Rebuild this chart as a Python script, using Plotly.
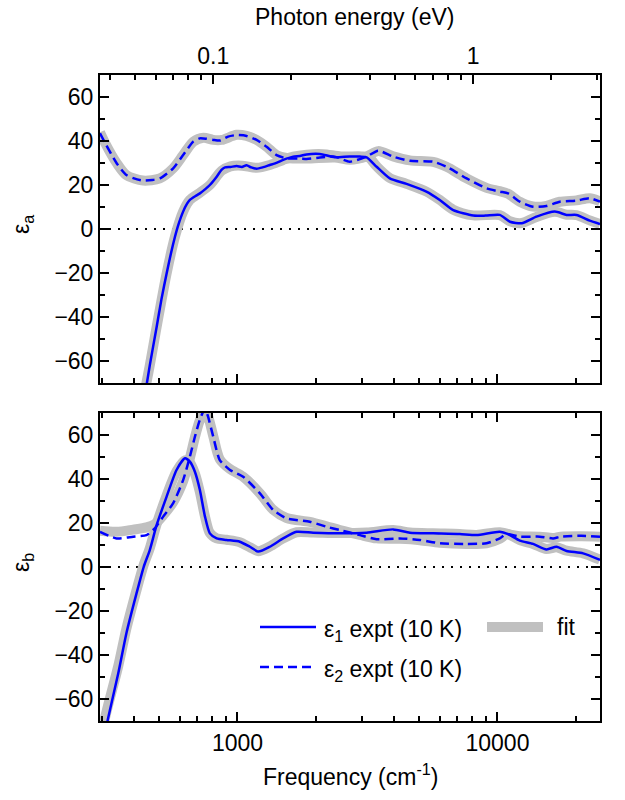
import math
import plotly.graph_objects as go

# ---------------- data ----------------
EV_TO_CM = 8065.54

# top panel (eps_a) experiment
freq_a_e1 = [440, 460, 489, 510, 534, 555, 575, 592, 618, 640, 656, 690, 717, 750, 783, 832, 870, 896, 940, 992,
             1040, 1084, 1130, 1184, 1250, 1332, 1420, 1499, 1638, 1738, 1845, 2075, 2367, 2700, 2960, 3140, 3430,
             3855, 4470, 5330, 6000, 6760, 8070, 9000, 10210, 11170, 12390, 14130, 16630, 18450, 20140, 22650, 24800]
eps_a_e1 = [-76, -62, -44.4, -32, -20.2, -11, -3.5, 1.8, 7.9, 11.5, 13.2, 15, 16.2, 18, 20, 23.8, 27, 28, 28.2, 28.6,
            28.2, 29, 28, 27.4, 28, 29.1, 30.2, 31.4, 32.9, 33.2, 33.9, 34.1, 32.6, 33, 32.9, 32.6, 28.3,
            23, 20.5, 17, 13.2, 8.6, 6.1, 6.1, 6.4, 3.3, 2.6, 5.6, 7.9, 6.4, 6.4, 3.8, 2.3]

freq_a_e2 = [296, 310, 343, 374, 400, 433, 470, 503, 566, 618, 676, 716, 760, 807, 855, 920, 992, 1084, 1184, 1294,
             1414, 1545, 1738, 1845, 2075, 2367, 2705, 3140, 3475, 3970, 4605, 5660, 6370, 7610, 9080, 10210,
             10990, 12190, 13710, 15440, 17380, 20140, 22650, 24800]
eps_a_e2 = [43.5, 39, 29.9, 24.5, 23, 22, 22.3, 23, 27.6, 33.6, 39.7, 41.2, 41, 40.5, 40.2, 42, 42.7, 42.3, 40.5, 37.4,
            33.6, 32.1, 32.1, 31.8, 32.5, 32.9, 30.6, 32.9, 35.6, 32.9, 31, 30.6, 28.3, 23, 18.5, 17,
            16.2, 12.4, 10.1, 10.5, 12.4, 12.9, 14, 12.4]

# top panel fit
freq_a_f1 = [430, 460, 489, 534, 575, 618, 656, 717, 783, 870, 940, 1040, 1184, 1332, 1499, 1638, 1845, 2138, 2500,
             3000, 3200, 3430, 3855, 4470, 5330, 6000, 6760, 8070, 10210, 11170, 12390, 14130, 16630, 18450, 20140,
             22650, 24800]
fit_a_e1 = [-80, -62, -44.4, -20.2, -3.5, 7.9, 13.2, 16.5, 20, 26.5, 28.5, 28.8, 27.8, 29.1, 31.4, 32.9, 33.8, 34, 33,
            33, 32.5, 28.5, 23.2, 20.5, 17, 13.2, 8.8, 6.2, 6.3, 3.5, 2.7, 5.5, 7.8, 6.5, 6.3,
            3.9, 2.3]
freq_a_f2 = [296, 310, 343, 374, 433, 503, 566, 618, 676, 740, 807, 870, 992, 1084, 1184, 1294, 1414, 1545, 1845, 2367,
             2705, 3140, 3475, 3970, 4605, 5660, 6370, 7610, 9080, 10210, 10990, 12190, 13710, 15440, 17380, 20140,
             22650, 24800]
fit_a_e2 = [44, 39, 30, 24.5, 22, 23, 27.6, 33.6, 39.7, 41.5, 40.5, 40.5, 42.8, 42.3, 40.5, 37.4, 33.6, 32.3, 32, 32.5,
            31.5, 33, 35.4, 33, 31.2, 30.5, 28.3, 23, 18.7, 17.2, 16, 12.4, 10.2, 10.5, 12.4, 13,
            14, 12.6]

# bottom panel (eps_b) experiment
freq_b_e1 = [305, 318, 348, 374, 409, 436, 460, 489, 534, 583, 628, 656, 686, 717, 750, 783, 832, 908, 1021, 1116,
             1202, 1332, 1499, 1688, 1955, 2477, 3140, 3970, 4605, 5660, 7160, 8310, 10210, 10990, 12190, 13710,
             15440, 16880, 18450, 21360, 24800]
eps_b_e1 = [-80, -68.8, -48.3, -30.1, -12, 0.1, 7.7, 19.1, 32, 44.1, 49.4, 47.9, 43.3, 35, 22.9, 15.3, 13, 12.3, 11.5, 9.2,
            7, 9.2, 13, 16, 15.6, 15.3, 15.6, 17.1, 15.6, 15.3, 15, 14.5, 16, 14.9, 12, 10.5,
            8, 9.2, 7.3, 6.2, 3.2]
freq_b_e2 = [296, 343, 397, 447, 481, 518, 566, 618, 656, 686, 716, 750, 771, 807, 855, 936, 1052, 1220, 1372, 1545,
             1897, 2202, 2477, 2960, 3430, 4220, 5030, 6000, 7610, 9080, 10210, 10830, 12190, 14560, 16370, 17500,
             21000, 24800]
eps_b_e2 = [16, 13, 13.8, 14.5, 17.6, 22.9, 29, 39.5, 50.1, 59.2, 66.8, 72, 68.3, 59.2, 48.6, 44.1, 41, 33.5, 25.9, 22.1,
            20.6, 18.3, 16.8, 14.5, 12.6, 13, 12.3, 10.8, 10.5, 10.8, 13, 15, 13.8, 13.8, 13, 13.8,
            14.2, 13.8]

# bottom panel fit
freq_b_f1 = [296, 309, 348, 374, 409, 436, 460, 489, 534, 583, 628, 656, 686, 717, 750, 783, 832, 908, 1021, 1116,
             1202, 1332, 1499, 1688, 1955, 2477, 3140, 3970, 4605, 5660, 7160, 8310, 10210, 10990, 12190, 13710,
             15440, 16880, 18450, 21360, 24800]
fit_b_e1 = [-82, -69, -45, -28, -10.5, 1, 8.5, 19.5, 32.5, 43.5, 48.5, 47.5, 42.5, 34, 23, 15.5, 13, 12.4, 11.3, 9,
            7.2, 9.3, 13, 15.8, 15.7, 15.4, 15.7, 16.8, 15.7, 15.3, 15, 14.6, 15.8, 15, 12.2, 10.5,
            8.2, 9, 7.4, 6.2, 3.3]
freq_b_f2 = [296, 343, 397, 447, 481, 518, 566, 618, 656, 686, 716, 750, 771, 807, 855, 936, 1052, 1220, 1372, 1545,
             1897, 2202, 2477, 2960, 3430, 4220, 5030, 6000, 7610, 9080, 10210, 10830, 12190, 14560, 16370, 17500,
             21000, 24800]
fit_b_e2 = [16.5, 16, 17, 18, 19.5, 23.5, 29.5, 39, 49.5, 59, 66.5, 71, 68.5, 59.5, 49, 44.5, 41, 33.5, 26, 22.3,
            20.5, 18.5, 16.8, 14.6, 13, 12.8, 12.2, 11, 10.5, 10.8, 12.8, 14.8, 14, 13.8, 13.2, 13.8,
            14, 13.8]

freq_range = [296, 24800]
freq_major = [1000, 10000]
freq_major_text = ["1000", "10000"]
freq_minor = [300, 400, 500, 600, 700, 800, 900, 2000, 3000, 4000, 5000, 6000, 7000, 8000, 9000, 20000]
ev_major = [0.1, 1]
ev_major_text = ["0.1", "1"]
ev_minor = [0.04, 0.05, 0.06, 0.07, 0.08, 0.09, 0.2, 0.3, 0.4, 0.5, 0.6, 0.7, 0.8, 0.9, 2, 3]
y_major = [-60, -40, -20, 0, 20, 40, 60]
y_range = [-70, 70]

# ---------------- figure ----------------
W, H = 625, 800
def px(x): return x / W
def py(y): return 1 - y / H

FONT = "Liberation Sans, Arial, sans-serif"
FS = 23
GREY = "#c0c0c0"
BLUE = "#0000ff"

fig = go.Figure()

def add_line(x, y, xa, ya, color, width, dash=None, smooth=0.6):
    fig.add_trace(go.Scatter(x=x, y=y, xaxis=xa, yaxis=ya, mode="lines",
                             line=dict(color=color, width=width, dash=dash, shape="spline", smoothing=smooth),
                             showlegend=False, hoverinfo="skip"))

# fits (behind)
add_line(freq_a_f1, fit_a_e1, "x", "y", GREY, 10, smooth=0.8)
add_line(freq_a_f2, fit_a_e2, "x", "y", GREY, 10, smooth=0.8)
add_line(freq_b_f1, fit_b_e1, "x2", "y2", GREY, 10, smooth=0.8)
add_line(freq_b_f2, fit_b_e2, "x2", "y2", GREY, 10, smooth=0.8)
# experiment
add_line(freq_a_e1, eps_a_e1, "x", "y", BLUE, 2.5)
add_line(freq_a_e2, eps_a_e2, "x", "y", BLUE, 2.5, dash="9px,5px")
add_line(freq_b_e1, eps_b_e1, "x2", "y2", BLUE, 2.5)
add_line(freq_b_e2, eps_b_e2, "x2", "y2", BLUE, 2.5, dash="9px,5px")
# carrier for the photon-energy axis
fig.add_trace(go.Scatter(x=[e / EV_TO_CM for e in freq_range], y=[None, None], xaxis="x3", yaxis="y",
                         mode="lines", showlegend=False, hoverinfo="skip"))

lo, hi = math.log10(freq_range[0]), math.log10(freq_range[1])
ev_off = math.log10(EV_TO_CM)

tick_common = dict(ticks="inside", ticklen=9, tickwidth=1.5, tickcolor="black",
                   showline=True, linecolor="black", linewidth=2, showgrid=False, zeroline=False,
                   tickfont=dict(family=FONT, size=FS, color="black"))
minor_x = dict(ticks="inside", ticklen=5, tickwidth=1.5, tickcolor="black", tickvals=freq_minor, showgrid=False)
minor_ev = dict(ticks="inside", ticklen=5, tickwidth=1.5, tickcolor="black", tickvals=ev_minor, showgrid=False)
minor_y = dict(ticks="inside", ticklen=5, tickwidth=1.5, tickcolor="black", dtick=10, tick0=0, showgrid=False)

xdom = [px(100), px(600)]
fig.update_layout(
    width=W, height=H, margin=dict(l=0, r=0, t=0, b=0),
    paper_bgcolor="white", plot_bgcolor="white",
    font=dict(family=FONT, size=FS, color="black"),
    showlegend=False,
    xaxis=dict(domain=xdom, anchor="y", type="log", range=[lo, hi], tickmode="array", tickvals=freq_major,
               showticklabels=False, mirror=False, minor=minor_x, **tick_common),
    xaxis3=dict(overlaying="x", anchor="y", side="top", type="log", range=[lo - ev_off, hi - ev_off],
                tickmode="array", tickvals=ev_major, ticktext=ev_major_text, minor=minor_ev, **tick_common),
    xaxis2=dict(domain=xdom, anchor="y2", type="log", range=[lo, hi], tickmode="array", tickvals=freq_major,
                ticktext=freq_major_text, mirror="ticks", minor=minor_x, **tick_common),
    yaxis=dict(domain=[py(383), py(75)], anchor="x", range=y_range, tickmode="array", tickvals=y_major,
               mirror="ticks", minor=minor_y, **tick_common),
    yaxis2=dict(domain=[py(721), py(413)], anchor="x2", range=y_range, tickmode="array", tickvals=y_major,
                mirror="ticks", minor=minor_y, **tick_common),
)

# dotted zero lines
for xr, yr in (("x domain", "y"), ("x2 domain", "y2")):
    fig.add_shape(type="line", xref=xr, yref=yr, x0=0, x1=1, y0=0, y1=0, layer="below",
                  line=dict(color="black", width=2, dash="2px,7px"))

# axis titles
ann = dict(showarrow=False, xref="paper", yref="paper", font=dict(family=FONT, size=FS, color="black"))
fig.add_annotation(text="Photon energy (eV)", x=px(354), y=py(17), xanchor="center", yanchor="middle", **ann)
fig.add_annotation(text="Frequency (cm<sup>-1</sup>)", x=px(350), y=py(775), xanchor="center", yanchor="middle", **ann)
fig.add_annotation(text="ε<sub>a</sub>", x=px(22), y=py(225), textangle=-90, xanchor="center", yanchor="middle", **ann)
fig.add_annotation(text="ε<sub>b</sub>", x=px(22), y=py(563), textangle=-90, xanchor="center", yanchor="middle", **ann)

# legend (manual)
fig.add_shape(type="line", xref="paper", yref="paper", x0=px(260), x1=px(316), y0=py(627), y1=py(627),
              line=dict(color=BLUE, width=2.5))
fig.add_shape(type="line", xref="paper", yref="paper", x0=px(260), x1=px(316), y0=py(667), y1=py(667),
              line=dict(color=BLUE, width=2.5, dash="9px,5px"))
fig.add_shape(type="line", xref="paper", yref="paper", x0=px(487), x1=px(543), y0=py(627), y1=py(627),
              line=dict(color=GREY, width=10))
fig.add_annotation(text="ε<sub>1</sub> expt (10 K)", x=px(322), y=py(630), xanchor="left", yanchor="middle", **ann)
fig.add_annotation(text="ε<sub>2</sub> expt (10 K)", x=px(322), y=py(670), xanchor="left", yanchor="middle", **ann)
fig.add_annotation(text="fit", x=px(555), y=py(627), xanchor="left", yanchor="middle", **ann)

fig.write_html("out.html")
